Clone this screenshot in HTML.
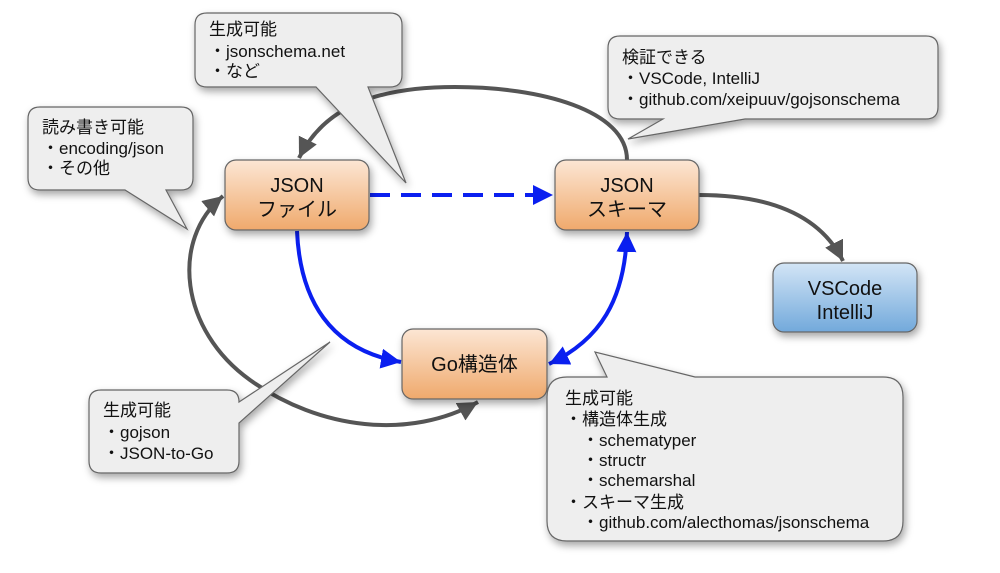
<!DOCTYPE html>
<html><head><meta charset="utf-8"><style>
html,body{margin:0;padding:0;background:#fff;}
svg{display:block;}
text{font-family:"Liberation Sans","Noto Sans CJK JP",sans-serif;fill:#111;}
</style></head><body>
<svg width="1000" height="573" viewBox="0 0 1000 573" xmlns="http://www.w3.org/2000/svg">
<defs>
<linearGradient id="og" x1="0" y1="0" x2="0" y2="1"><stop offset="0" stop-color="#fce6d4"/><stop offset="1" stop-color="#efa96c"/></linearGradient>
<linearGradient id="bg" x1="0" y1="0" x2="0" y2="1"><stop offset="0" stop-color="#d3e5f6"/><stop offset="1" stop-color="#72a9db"/></linearGradient>
<filter id="sh" x="-20%" y="-20%" width="150%" height="160%"><feDropShadow dx="2" dy="4" stdDeviation="4" flood-color="#000" flood-opacity="0.35"/></filter>
<marker id="ag" markerUnits="userSpaceOnUse" markerWidth="24" markerHeight="24" refX="20" refY="10" orient="auto"><path d="M0,0 L20,10 L0,20 Z" fill="#555"/></marker>
<marker id="ab" markerUnits="userSpaceOnUse" markerWidth="24" markerHeight="24" refX="20" refY="10" orient="auto"><path d="M0,0 L20,10 L0,20 Z" fill="#0a1ff0"/></marker>
<marker id="abs" markerUnits="userSpaceOnUse" markerWidth="24" markerHeight="24" refX="20" refY="10" orient="auto-start-reverse"><path d="M0,0 L20,10 L0,20 Z" fill="#0a1ff0"/></marker>
<marker id="ags" markerUnits="userSpaceOnUse" markerWidth="24" markerHeight="24" refX="20" refY="10" orient="auto-start-reverse"><path d="M0,0 L20,10 L0,20 Z" fill="#555"/></marker>
</defs>

<path d="M627,160 C627,110 540,87 455,87 C380,87 325,105 299,158" fill="none" stroke="#555" stroke-width="4" marker-end="url(#ag)"/>
<path d="M223,196 C170,240 180,330 250,380 C320,430 410,440 478,402" fill="none" stroke="#555" stroke-width="4" marker-start="url(#ags)" marker-end="url(#ag)"/>
<path d="M699,195 C770,195 820,215 843,261" fill="none" stroke="#555" stroke-width="4" marker-end="url(#ag)"/>

<path d="M370,195 H553" fill="none" stroke="#0a1ff0" stroke-width="4" stroke-dasharray="20,11" marker-end="url(#ab)"/>
<path d="M297,231 C300,300 330,350 401,362" fill="none" stroke="#0a1ff0" stroke-width="4" marker-end="url(#ab)"/>
<path d="M549,364 C600,340 625,300 627,232" fill="none" stroke="#0a1ff0" stroke-width="4" marker-start="url(#abs)" marker-end="url(#ab)"/>

<g filter="url(#sh)">
<rect x="225" y="160" width="144" height="70" rx="11" fill="url(#og)" stroke="#666" stroke-width="1.2"/>
<rect x="555" y="160" width="144" height="70" rx="11" fill="url(#og)" stroke="#666" stroke-width="1.2"/>
<rect x="402" y="329" width="145" height="70" rx="11" fill="url(#og)" stroke="#666" stroke-width="1.2"/>
<rect x="773" y="263" width="144" height="69" rx="11" fill="url(#bg)" stroke="#666" stroke-width="1.2"/>
</g>
<g font-size="20" text-anchor="middle">
<text x="297" y="192">JSON</text><text x="297" y="216">ファイル</text>
<text x="627" y="192">JSON</text><text x="627" y="216">スキーマ</text>
<text x="474.5" y="371">Go構造体</text>
<text x="845" y="295">VSCode</text><text x="845" y="319">IntelliJ</text>
</g>

<g filter="url(#sh)" fill="#eeeeee" stroke="#666" stroke-width="1.2">
<path d="M207,13 H390 Q402,13 402,25 V75 Q402,87 390,87 H368 L406,183 L316,87 H207 Q195,87 195,75 V25 Q195,13 207,13 Z"/>
<path d="M40,107 H181 Q193,107 193,119 V178 Q193,190 181,190 H166 L187,229 L125,190 H40 Q28,190 28,178 V119 Q28,107 40,107 Z"/>
<path d="M620,36 H926 Q938,36 938,48 V107 Q938,119 926,119 H745 L628,139 L663,119 H620 Q608,119 608,107 V48 Q608,36 620,36 Z"/>
<path d="M101,390 H227 Q239,390 239,402 L330,342 L239,423 V461 Q239,473 227,473 H101 Q89,473 89,461 V402 Q89,390 101,390 Z"/>
<path d="M567,377 H607 L595,352 L695,377 H883 Q903,377 903,397 V521 Q903,541 883,541 H567 Q547,541 547,521 V397 Q547,377 567,377 Z"/>
</g>
<g font-size="17">
<text x="209" y="35">生成可能</text>
<text x="209" y="57">・jsonschema.net</text>
<text x="209" y="77">・など</text>

<text x="42" y="133">読み書き可能</text>
<text x="42" y="154">・encoding/json</text>
<text x="42" y="174">・その他</text>

<text x="622" y="63">検証できる</text>
<text x="622" y="84">・VSCode, IntelliJ</text>
<text x="622" y="105">・github.com/xeipuuv/gojsonschema</text>

<text x="103" y="416">生成可能</text>
<text x="103" y="438">・gojson</text>
<text x="103" y="459">・JSON-to-Go</text>

<text x="565" y="404">生成可能</text>
<text x="565" y="425">・構造体生成</text>
<text x="582" y="446">・schematyper</text>
<text x="582" y="466">・structr</text>
<text x="582" y="486">・schemarshal</text>
<text x="565" y="508">・スキーマ生成</text>
<text x="582" y="528">・github.com/alecthomas/jsonschema</text>
</g>
</svg>
</body></html>
